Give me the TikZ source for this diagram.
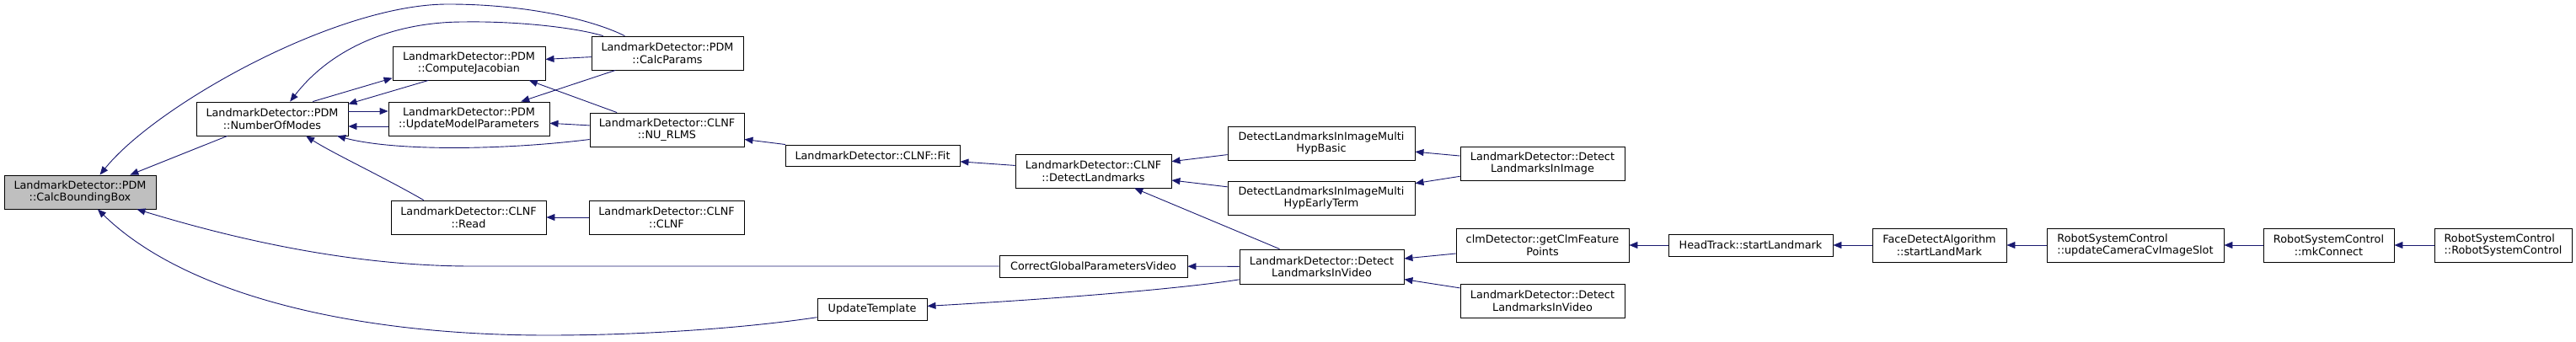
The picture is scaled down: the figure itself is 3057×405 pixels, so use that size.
\documentclass[tikz,border=0pt]{standalone}
\usepackage{fontspec}
\setmainfont{DejaVu Sans}
\usetikzlibrary{arrows.meta}
\definecolor{edgec}{HTML}{191970}
\definecolor{hlgray}{HTML}{BFBFBF}
\begin{document}
\begin{tikzpicture}[x=1pt,y=-1pt,
  box/.style={draw=black, line width=0.9pt, fill=white, inner sep=0pt, align=center,
    font=\fontsize{12.8}{14.5}\selectfont, minimum height=40pt},
  lbox/.style={box, align=left},
  edge/.style={draw=edgec, line width=0.9pt, -{Triangle[length=10pt,width=8pt]}}]
\useasboundingbox (0,0) rectangle (3057,405);

% nodes
\node[box, fill=hlgray, minimum width=180pt] (CBB) at (95,228) {LandmarkDetector::PDM\\::CalcBoundingBox};
\node[box, minimum width=180pt] (NoM) at (323,141) {LandmarkDetector::PDM\\::NumberOfModes};
\node[box, minimum width=181pt] (CJ) at (556.5,75) {LandmarkDetector::PDM\\::ComputeJacobian};
\node[box, minimum width=191pt] (UMP) at (556.5,141) {LandmarkDetector::PDM\\::UpdateModelParameters};
\node[box, minimum width=184pt] (Read) at (556,258) {LandmarkDetector::CLNF\\::Read};
\node[box, minimum width=180pt] (CP) at (792,63) {LandmarkDetector::PDM\\::CalcParams};
\node[box, minimum width=183pt] (NU) at (791.5,154) {LandmarkDetector::CLNF\\::NU\_RLMS};
\node[box, minimum width=184pt] (CLNF) at (791,258) {LandmarkDetector::CLNF\\::CLNF};
\node[box, minimum width=207pt, minimum height=25pt] (Fit) at (1035.5,184.5) {LandmarkDetector::CLNF::Fit};
\node[box, minimum width=185pt] (DL) at (1297.5,203) {LandmarkDetector::CLNF\\::DetectLandmarks};
\node[box, minimum width=223pt, minimum height=26pt] (CGPV) at (1297.5,316) {CorrectGlobalParametersVideo};
\node[box, minimum width=130pt, minimum height=26pt] (UT) at (1035,367) {UpdateTemplate};
\node[box, minimum width=222pt] (MHB) at (1568,170) {DetectLandmarksInImageMulti\\HypBasic};
\node[box, minimum width=222pt] (MHET) at (1568,235) {DetectLandmarksInImageMulti\\HypEarlyTerm};
\node[box, minimum width=195pt, minimum height=41pt] (DLIV) at (1568.5,316.5) {LandmarkDetector::Detect\\LandmarksInVideo};
\node[box, minimum width=195pt] (DLII) at (1830.5,194) {LandmarkDetector::Detect\\LandmarksInImage};
\node[box, minimum width=205pt] (GCF) at (1830.5,291) {clmDetector::getClmFeature\\Points};
\node[box, minimum width=195pt] (DLIV2) at (1830.5,357) {LandmarkDetector::Detect\\LandmarksInVideo};
\node[box, minimum width=195pt, minimum height=26pt] (HT) at (2077.5,291) {HeadTrack::startLandmark};
\node[box, minimum width=159pt] (FDA) at (2301.5,291) {FaceDetectAlgorithm\\::startLandMark};
\node[lbox, minimum width=210pt] (UCC) at (2534,291) {RobotSystemControl\\::updateCameraCvImageSlot};
\node[box, minimum width=155pt] (MKC) at (2763.5,291) {RobotSystemControl\\::mkConnect};
\node[lbox, minimum width=163pt] (RSC) at (2970.5,291) {RobotSystemControl\\::RobotSystemControl};

% edges
\draw[edge] (CP.158) .. controls (700,22) and (620,5) .. (533,5) .. controls (400,4) and (185,125) .. (CBB.41);
\draw[edge] (CP.165) .. controls (680,32) and (610,25) .. (550,26) .. controls (470,26) and (395,55) .. (NoM.44);
\draw[edge] (CP) -- (CJ);
\draw[edge] (CP) -- (UMP);
\draw[edge] (NU.161) -- (CJ.-16);
\draw[edge] (NU) -- (UMP);
\draw[edge] (NU) .. controls (600,178) and (470,180) .. (NoM);
\draw[edge] (NoM.23) -- (CJ.191);
\draw[edge] (CJ.203) -- (NoM.11);
\draw[edge] ([yshift=9pt]NoM.east) -- ([yshift=9pt]UMP.west);
\draw[edge] ([yshift=-9pt]UMP.west) -- ([yshift=-9pt]NoM.east);
\draw[edge] (Read.159) .. controls (455,210) and (395,182) .. (NoM.-27);
\draw[edge] (NoM.201) -- (CBB.19);
\draw[edge] (CLNF) -- (Read);
\draw[edge] (Fit) -- (NU);
\draw[edge] (DL) -- (Fit);
\draw[edge] (MHB) -- (DL);
\draw[edge] (MHET) -- (DL);
\draw[edge] (DLIV) -- (DL);
\draw[edge] (DLII) -- (MHB);
\draw[edge] (DLII) -- (MHET);
\draw[edge] (CGPV.west) -- (560,316) .. controls (400,316) and (250,275) .. (CBB);
\draw[edge] (DLIV) -- (CGPV);
\draw[edge] (UT) .. controls (880,390) and (760,398) .. (650,398) .. controls (420,398) and (220,350) .. (CBB);
\draw[edge] (DLIV) .. controls (1400,343) and (1250,355) .. (UT);
\draw[edge] (GCF) -- (DLIV);
\draw[edge] (DLIV2) -- (DLIV);
\draw[edge] (HT) -- (GCF);
\draw[edge] (FDA) -- (HT);
\draw[edge] (UCC) -- (FDA);
\draw[edge] (MKC) -- (UCC);
\draw[edge] (RSC) -- (MKC);
\end{tikzpicture}
\end{document}
